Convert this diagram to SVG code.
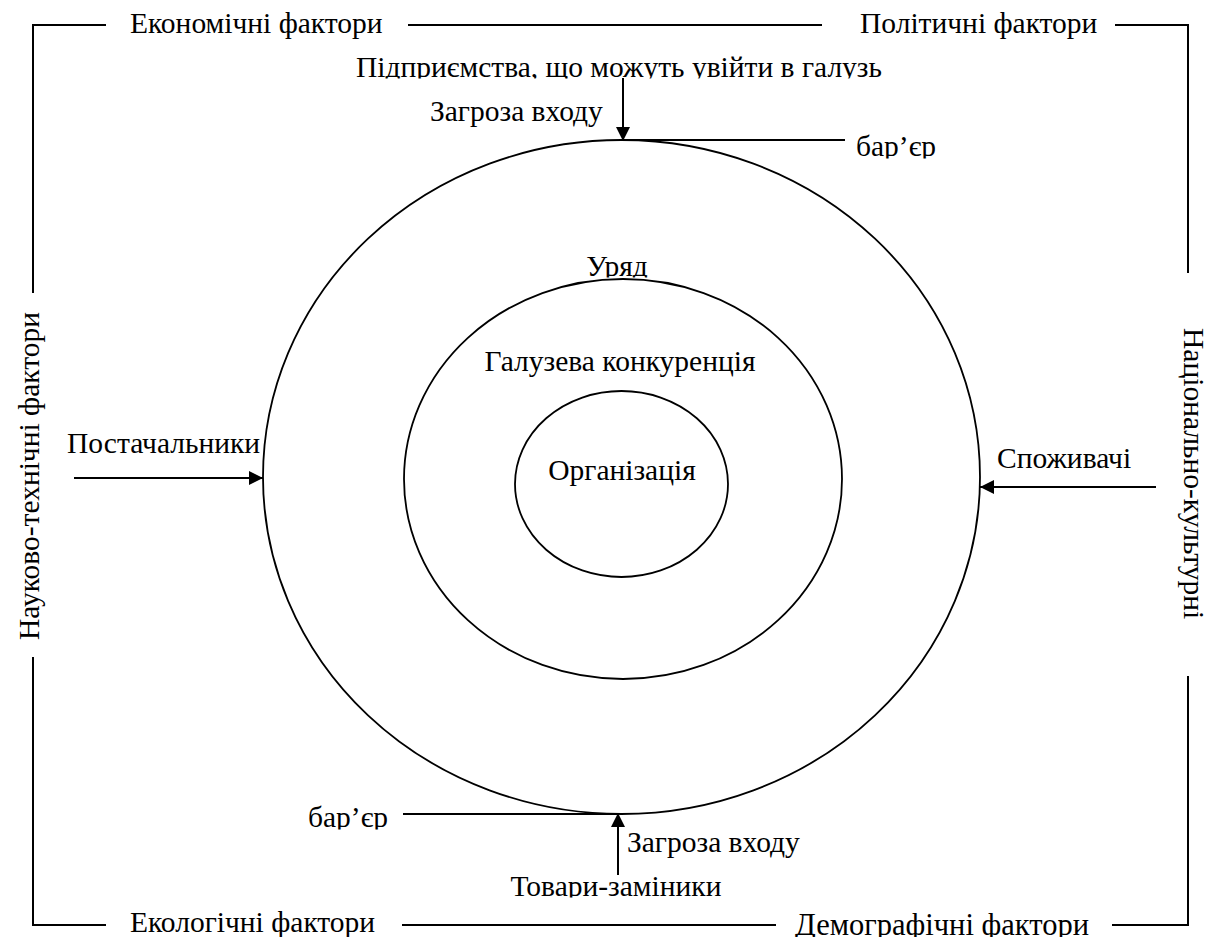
<svg xmlns="http://www.w3.org/2000/svg" width="1209" height="937" viewBox="0 0 1209 937">
<style>
.ln{stroke:#000;stroke-width:2;fill:none}
.el{stroke:#000;stroke-width:1.8;fill:none}
.ar{stroke:#000;stroke-width:2;fill:none;marker-end:url(#ah)}
</style>
<defs>
<marker id="ah" markerUnits="userSpaceOnUse" markerWidth="14" markerHeight="14" viewBox="0 0 14 14" refX="14" refY="7" orient="auto">
<path d="M0,0 L14,7 L0,14 Z" fill="#000"/>
</marker>
<clipPath id="c1"><rect x="300" y="40" width="650" height="38.5"/></clipPath>
<clipPath id="c2"><rect x="840" y="130" width="120" height="28.5"/></clipPath>
<clipPath id="c3"><rect x="290" y="800" width="120" height="29.5"/></clipPath>
<clipPath id="c4"><rect x="490" y="860" width="260" height="37.5"/></clipPath>
<clipPath id="c5"><rect x="560" y="240" width="120" height="37.5"/></clipPath>
</defs>
<g id="frame">
<path class="ln" d="M106,25 H33 V293 M33,657 V925 H106 M408,25 H822 M1115,25 H1188 V273 M1188,676 V925 H1112 M402,925 H776"/>
<text x="130" y="33" font-family="Liberation Serif" font-size="29.5">Економічні фактори</text>
<text x="860" y="33" font-family="Liberation Serif" font-size="29.5">Політичні фактори</text>
<text x="130" y="932" font-family="Liberation Serif" font-size="29.5">Екологічні фактори</text>
<text x="942" y="935" text-anchor="middle" font-family="Liberation Serif" font-size="30.5">Демографічні фактори</text>
<text transform="translate(39,640) rotate(-90)" font-family="Liberation Serif" font-size="29.5">Науково-технічні фактори</text>
<text transform="translate(1184,328) rotate(90)" font-family="Liberation Serif" font-size="29.5">Національно-культурні</text>
</g>
<g id="outer">
<ellipse class="el" cx="621.5" cy="477" rx="358.5" ry="337"/>
</g>
<g id="middle">
<ellipse class="el" cx="623" cy="479" rx="219" ry="200"/>
<text x="617" y="276" text-anchor="middle" clip-path="url(#c5)" font-family="Liberation Serif" font-size="29.5">Уряд</text>
<text x="620" y="371" text-anchor="middle" font-family="Liberation Serif" font-size="29.5">Галузева конкуренція</text>
</g>
<g id="inner">
<ellipse class="el" cx="621.5" cy="484" rx="106.5" ry="93"/>
<text x="622" y="480" text-anchor="middle" font-family="Liberation Serif" font-size="29.5">Організація</text>
</g>
<g id="entrants">
<text x="356" y="77" clip-path="url(#c1)" font-family="Liberation Serif" font-size="29.5">Підприємства, що можуть увійти в галузь</text>
<text x="430" y="121" font-family="Liberation Serif" font-size="29.5">Загроза входу</text>
<text x="856" y="156" clip-path="url(#c2)" font-family="Liberation Serif" font-size="29.5">бар’єр</text>
</g>
<g id="suppliers">
<text x="67" y="453" font-family="Liberation Serif" font-size="29.5">Постачальники</text>
</g>
<g id="consumers">
<text x="997" y="468" font-family="Liberation Serif" font-size="29.5">Споживачі</text>
</g>
<g id="substitutes">
<text x="308" y="827" clip-path="url(#c3)" font-family="Liberation Serif" font-size="29.5">бар’єр</text>
<text x="627" y="852" font-family="Liberation Serif" font-size="29.5">Загроза входу</text>
<text x="616" y="896" text-anchor="middle" clip-path="url(#c4)" font-family="Liberation Serif" font-size="29.5">Товари-заміники</text>
</g>
<g id="connectors">
<line class="ar" x1="623" y1="78" x2="623" y2="141"/>
<line class="ln" x1="623" y1="140" x2="845" y2="140"/>
<line class="ar" x1="618" y1="875" x2="618" y2="813"/>
<line class="ln" x1="403" y1="814" x2="618" y2="814"/>
<line class="ar" x1="74" y1="478" x2="263" y2="478"/>
<line class="ar" x1="1156" y1="487" x2="980" y2="487"/>
</g>
</svg>
